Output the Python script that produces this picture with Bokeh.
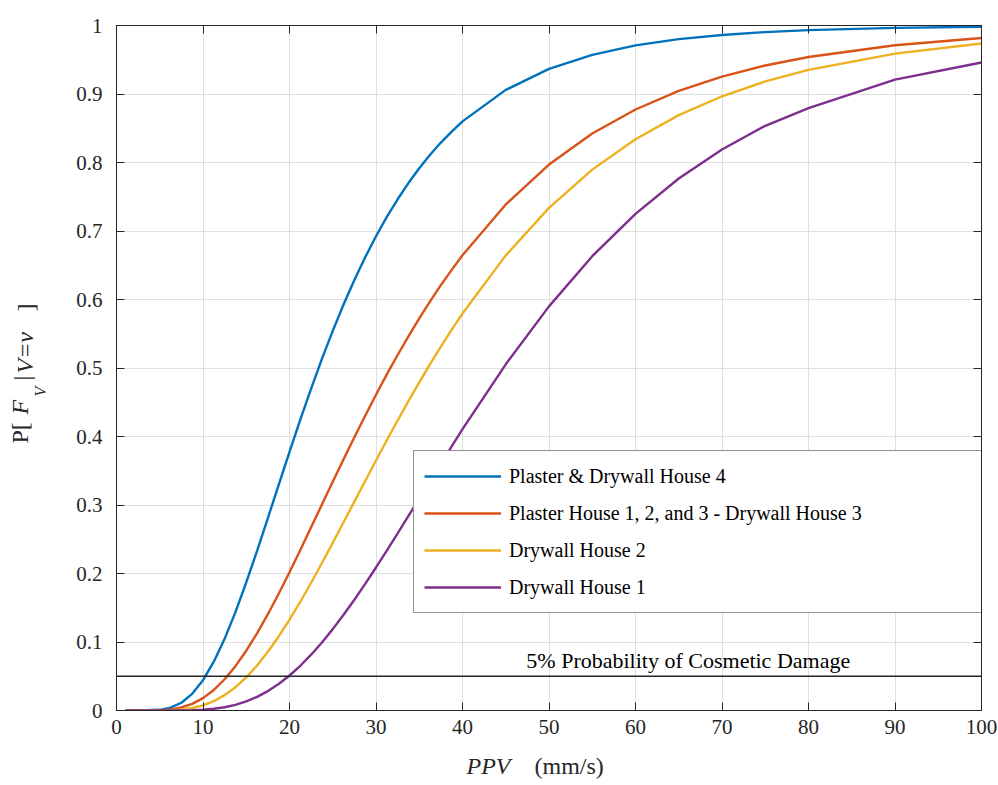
from math import pi
from bokeh.plotting import figure
from bokeh.layouts import row, column
from bokeh.models import FixedTicker, LinearAxis, Label, Span, Range1d
from bokeh.core.properties import value
from bokeh.embed import file_html
from bokeh.resources import INLINE

# ---- data ----
ppv = [1, 2.5, 5, 6.25, 7.5, 8.75, 10, 11.25, 12.5, 13.75, 15, 16.25, 17.5, 18.75, 20,
       21.25, 22.5, 23.75, 25, 26.25, 27.5, 28.75, 30, 31.25, 32.5, 33.75, 35, 36.25, 37.5,
       38.75, 40, 45, 50, 55, 60, 65, 70, 75, 80, 90, 100]
house4_pd = [0, 0, 0.001, 0.0041, 0.0113, 0.0243, 0.0442, 0.0712, 0.1046, 0.1436,
             0.1869, 0.2331, 0.281, 0.3295, 0.3776, 0.4247, 0.47, 0.5133, 0.5542, 0.5926,
             0.6284, 0.6616, 0.6923, 0.7205, 0.7463, 0.77, 0.7915, 0.8112, 0.8291, 0.8452,
             0.86, 0.906, 0.9367, 0.9572, 0.9709, 0.9801, 0.9862, 0.9904, 0.9933, 0.9966, 0.9982]
plaster123_dw3 = [0, 0, 0.0004, 0.0016, 0.0044, 0.0097, 0.0181, 0.03, 0.0456, 0.0647,
                  0.0873, 0.1127, 0.1406, 0.1705, 0.2019, 0.2343, 0.2674, 0.3007, 0.3339, 0.3667,
                  0.399, 0.4304, 0.461, 0.4906, 0.519, 0.5463, 0.5723, 0.5972, 0.6209, 0.6433,
                  0.6647, 0.7387, 0.797, 0.8423, 0.8774, 0.9045, 0.9254, 0.9416, 0.954, 0.9712,
                  0.9817]
drywall2 = [0, 0, 0.0001, 0.0004, 0.0015, 0.0036, 0.0076, 0.0137, 0.0224, 0.034,
            0.0484, 0.0657, 0.0857, 0.1081, 0.1326, 0.1588, 0.1865, 0.2153, 0.2448, 0.2748,
            0.305, 0.3351, 0.365, 0.3945, 0.4234, 0.4517, 0.479, 0.5056, 0.5312, 0.5559,
            0.5796, 0.6644, 0.7338, 0.7896, 0.834, 0.8691, 0.8967, 0.9183, 0.9353, 0.959, 0.9738]
drywall1 = [0, 0, 0, 0, 0.0001, 0.0005, 0.0012, 0.0025, 0.0048, 0.0083,
            0.0132, 0.0199, 0.0283, 0.0387, 0.0511, 0.0653, 0.0815, 0.0993, 0.1188, 0.1397,
            0.1617, 0.1848, 0.2088, 0.2334, 0.2585, 0.284, 0.3095, 0.3351, 0.3605, 0.3857,
            0.4107, 0.5054, 0.59, 0.6632, 0.7251, 0.7767, 0.819, 0.8536, 0.8795, 0.921, 0.946]
series_names = ["Plaster & Drywall House 4",
                "Plaster House 1, 2, and 3 - Drywall House 3",
                "Drywall House 2",
                "Drywall House 1"]
series_values = [house4_pd, plaster123_dw3, drywall2, drywall1]
series_colors = ["#0072BD", "#D95319", "#EDB120", "#7E2F8E"]
threshold = 0.05
threshold_text = "5% Probability of Cosmetic Damage"
x_ticks = [0, 10, 20, 30, 40, 50, 60, 70, 80, 90, 100]
y_ticks = [0, 0.1, 0.2, 0.3, 0.4, 0.5, 0.6, 0.7, 0.8, 0.9, 1]
y_tick_labels = ["0", "0.1", "0.2", "0.3", "0.4", "0.5", "0.6", "0.7", "0.8", "0.9", "1"]
x_label_parts = ["PPV", "(mm/s)"]
y_label_parts = ["P[", "F", "V", "|", "V=v", "]"]

FONT = "Liberation Serif"
AX = "#262626"

# ---------------- main plot ----------------
p = figure(width=938, height=748, x_range=(0, 100), y_range=(0, 1),
           output_backend="svg", toolbar_location=None,
           min_border_left=56, min_border_right=17, min_border_top=25, min_border_bottom=38,
           background_fill_color="white", border_fill_color="white")
p.outline_line_color = AX
p.outline_line_width = 1


def style_axis(ax, ticks, show_labels, standoff):
    ax.ticker = FixedTicker(ticks=ticks)
    ax.major_tick_in = 8
    ax.major_tick_out = 0
    ax.minor_tick_line_color = None
    ax.axis_line_color = AX
    ax.axis_line_width = 1
    ax.major_tick_line_color = AX
    ax.major_tick_line_width = 1
    ax.major_label_text_font = FONT
    ax.major_label_standoff = standoff
    if show_labels:
        ax.major_label_text_font_size = "21px"
        ax.major_label_text_color = AX
    else:
        ax.major_label_text_font_size = "0px"
        ax.major_label_text_color = None


style_axis(p.xaxis[0], x_ticks, True, 9)
style_axis(p.yaxis[0], y_ticks, True, 14)
p.yaxis[0].major_label_overrides = {t: l for t, l in zip(y_ticks, y_tick_labels)}

top_ax = LinearAxis()
style_axis(top_ax, x_ticks, False, 0)
p.add_layout(top_ax, "above")
right_ax = LinearAxis()
style_axis(right_ax, y_ticks, False, 0)
p.add_layout(right_ax, "right")

p.xgrid.ticker = FixedTicker(ticks=x_ticks)
p.ygrid.ticker = FixedTicker(ticks=y_ticks)
for g in (p.xgrid[0], p.ygrid[0]):
    g.grid_line_color = "#dfdfdf"
    g.grid_line_width = 1

for name, vals, col in zip(series_names, series_values, series_colors):
    p.line(ppv, vals, line_color=col, line_width=2.4, legend_label=name)

p.add_layout(Span(location=threshold, dimension="width", line_color=AX, line_width=1.5))
p.add_layout(Label(x=66.1, y=0.073, text=threshold_text, text_font=FONT,
                   text_font_size="22px", text_color="black",
                   text_align="center", text_baseline="alphabetic"))

lg = p.legend[0]
lg.location = (297, 97)
lg.margin = 0
lg.padding = 10
lg.spacing = 7
lg.glyph_width = 77
lg.glyph_height = 20
lg.label_standoff = 8
lg.label_width = 463
lg.label_height = 30
lg.label_text_font = FONT
lg.label_text_font_size = "20px"
lg.label_text_color = "black"
lg.border_line_color = AX
lg.border_line_width = 1
lg.background_fill_alpha = 1


def blank_fig(w, h, xr, yr):
    f = figure(width=w, height=h, x_range=Range1d(*xr), y_range=Range1d(*yr),
               output_backend="svg", toolbar_location=None,
               min_border_left=0, min_border_right=0, min_border_top=0, min_border_bottom=0,
               x_axis_type=None, y_axis_type=None,
               background_fill_color="white", border_fill_color="white")
    f.outline_line_color = None
    f.grid.visible = False
    return f


# ---------------- y-axis label strip (screen-like coords) ----------------
yfig = blank_fig(60, 785, (0, 60), (0, 785))
# (anchor x = middle of text, screen y where the upward text starts, style, size)
ylab_pos = [(19, 443, "normal", "24px"),
            (19, 414, "italic", "24px"),
            (40, 396, "italic", "16px"),
            (21, 380, "normal", "24px"),
            (24, 373, "italic", "24px"),
            (25, 311, "normal", "24px")]
for t, (bx, sy, st, sz) in zip(y_label_parts, ylab_pos):
    yfig.text(x=[bx], y=[785 - sy], text=[t], angle=pi / 2,
              text_font=value(FONT), text_font_style=value(st),
              text_font_size=value(sz), text_color=value(AX),
              text_align=value("left"), text_baseline=value("middle"))

# ---------------- x-axis label strip (frame aligned with the plot frame) ----------------
xfig = blank_fig(938, 37, (116, 981), (0, 37))
xlab_pos = [(466, "italic"), (534, "normal")]
for t, (sx, st) in zip(x_label_parts, xlab_pos):
    xfig.text(x=[sx], y=[785 - 765], text=[t],
              text_font=value(FONT), text_font_style=value(st),
              text_font_size=value("24px"), text_color=value(AX),
              text_align=value("left"), text_baseline=value("middle"))

layout = row(yfig, column(p, xfig, spacing=0), spacing=0)

open("out.html", "w").write(file_html(layout, INLINE))
